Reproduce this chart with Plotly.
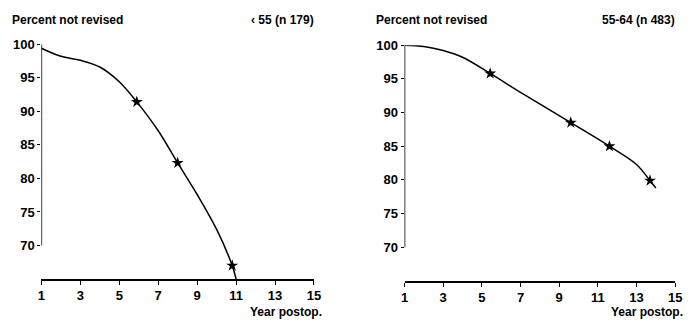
import plotly.graph_objects as go

# Left panel: age < 55
left_curve_x = [1, 2, 3, 4, 5, 5.9, 7, 8, 9, 10, 10.8, 11]
left_curve_y = [99.4, 98.2, 97.6, 96.6, 94.4, 91.4, 87.1, 82.3, 77.6, 72.4, 67.0, 65.0]
left_star_x = [5.9, 8.0, 10.8]
left_star_y = [91.4, 82.3, 67.0]

# Right panel: age 55-64
right_curve_x = [1, 2, 3, 4, 5.43, 7, 9.6, 11.6, 13, 13.7, 14]
right_curve_y = [100, 99.8, 99.2, 98.2, 95.8, 93.0, 88.5, 85.0, 82.3, 79.9, 78.8]
right_star_x = [5.43, 9.6, 11.6, 13.7]
right_star_y = [95.8, 88.5, 85.0, 79.9]

x_ticks = [1, 3, 5, 7, 9, 11, 13, 15]
y_ticks = [70, 75, 80, 85, 90, 95, 100]

FONT = "Liberation Sans"
W, H = 692, 327

fig = go.Figure()

def add_panel(cx, cy, sx, sy, xa, ya):
    fig.add_trace(go.Scatter(x=cx, y=cy, mode="lines", line=dict(color="black", width=1.5, shape="spline", smoothing=1.0),
                             xaxis=xa, yaxis=ya, cliponaxis=False, showlegend=False, hoverinfo="skip"))
    fig.add_trace(go.Scatter(x=sx, y=sy, mode="markers", marker=dict(symbol="star", size=9, color="black"),
                             xaxis=xa, yaxis=ya, cliponaxis=False, showlegend=False))

add_panel(left_curve_x, left_curve_y, left_star_x, left_star_y, "x", "y")
add_panel(right_curve_x, right_curve_y, right_star_x, right_star_y, "x2", "y2")

tickfont = dict(family=FONT, size=13, color="black", weight="bold")

def xax(domain, anchor):
    return dict(domain=domain, anchor=anchor, range=[1, 15], tickvals=x_ticks, showline=True, linecolor="black",
                linewidth=1.5, ticks="outside", ticklen=4, tickcolor="black", showgrid=False, zeroline=False,
                tickfont=tickfont)

def yax(domain, anchor):
    return dict(domain=domain, anchor=anchor, range=[65, 100], tickvals=y_ticks, showline=False,
                ticks="outside", ticklen=3, tickcolor="black", showgrid=False, zeroline=False, tickfont=tickfont)

fig.update_layout(
    width=W, height=H, margin=dict(l=0, r=0, t=0, b=0),
    paper_bgcolor="white", plot_bgcolor="white",
    xaxis=xax([38 / W, 315 / W], "y"),
    yaxis=yax([1 - 278 / H, 1 - 38 / H], "x"),
    xaxis2=xax([407 / W, 682 / W], "y2"),
    yaxis2=yax([1 - 280 / H, 1 - 39 / H], "x2"),
)

# y-axis lines spanning 70..100 only
for xr, yr in [("x", "y"), ("x2", "y2")]:
    fig.add_shape(type="line", xref=xr, yref=yr, x0=1, x1=1, y0=70, y1=100, line=dict(color="black", width=1.5))

afont = dict(family=FONT, size=12, color="black", weight="bold")
annots = [
    (6 / W, 1 - 13 / H, "Percent not revised", "left"),
    (317 / W, 1 - 13 / H, "‹ 55 (n 179)", "right"),
    (376 / W, 1 - 13 / H, "Percent not revised", "left"),
    (684 / W, 1 - 13 / H, "55-64 (n 483)", "right"),
    (325 / W, 1 - 312 / H, "Year postop.", "right"),
    (692 / W, 1 - 312 / H, "Year postop.", "right"),
]
for x, y, t, al in annots:
    fig.add_annotation(x=x, y=y, xref="paper", yref="paper", text=t, showarrow=False, xanchor=al, yanchor="middle",
                       font=afont)

fig.write_html("out.html")
